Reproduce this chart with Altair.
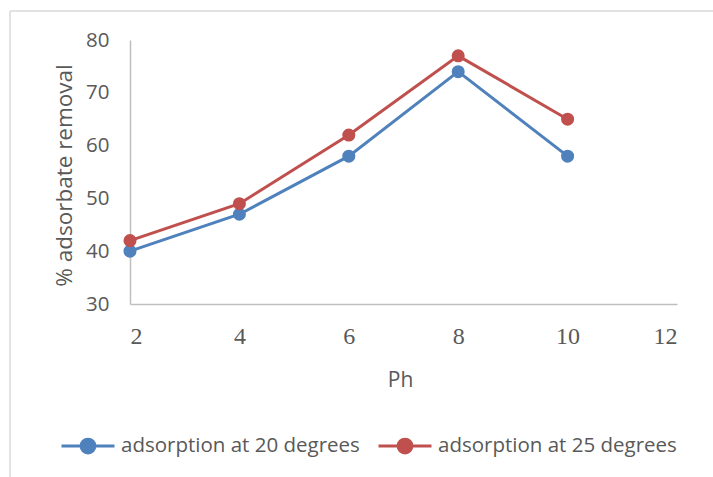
import altair as alt
import pandas as pd

ph = [2, 4, 6, 8, 10]
ads20 = [40, 47, 58, 74, 58]
ads25 = [42, 49, 62, 77, 65]
series_names = ["adsorption at 20 degrees", "adsorption at 25 degrees"]
series_colors = ["#4F81BD", "#C0504D"]
x_ticks = [2, 4, 6, 8, 10, 12]
y_ticks = [30, 40, 50, 60, 70, 80]

df = pd.concat([
    pd.DataFrame({"Ph": ph, "value": ads20, "series": series_names[0]}),
    pd.DataFrame({"Ph": ph, "value": ads25, "series": series_names[1]}),
])

sym = "M-1,0L1,0M0.26,0A0.26,0.26,0,1,1,-0.26,0A0.26,0.26,0,1,1,0.26,0"

lines = alt.Chart(df).mark_line(
    point=alt.OverlayMarkDef(size=170, filled=True, opacity=1),
    strokeWidth=3,
).encode(
    x=alt.X("Ph:Q", scale=alt.Scale(domain=[2, 12], nice=False),
            axis=alt.Axis(values=x_ticks, title="Ph", grid=False, ticks=False,
                          domainColor="#BFBFBF", domainWidth=1.5,
                          labelFont="Liberation Serif", labelFontSize=24,
                          labelColor="#595959", labelPadding=20,
                          titleFont="Open Sans", titleFontSize=21, titleFontWeight="normal",
                          titleColor="#595959", titleX=270, titleY=76,
                          titleBaseline="middle", titleAlign="center")),
    y=alt.Y("value:Q", scale=alt.Scale(domain=[30, 80], nice=False),
            axis=alt.Axis(values=y_ticks, title="% adsorbate removal", grid=False, ticks=False,
                          domainColor="#BFBFBF", domainWidth=1.5,
                          labelFont="Open Sans", labelFontSize=20.5,
                          labelColor="#595959", labelPadding=21,
                          titleFont="Open Sans", titleFontSize=22.5, titleFontWeight="normal",
                          titleColor="#595959", titleX=-66, titleY=135, titleAngle=270,
                          titleBaseline="middle", titleAlign="center")),
    color=alt.Color("series:N",
                    scale=alt.Scale(domain=series_names, range=series_colors),
                    legend=alt.Legend(title=None, orient="none", direction="horizontal",
                                      legendX=-70, legendY=378,
                                      symbolType=sym, symbolSize=2809,
                                      symbolStrokeWidth=3, symbolFillColor=None,
                                      labelFont="Open Sans", labelFontSize=20.5,
                                      labelColor="#595959", labelOffset=5,
                                      labelLimit=400,
                                      columnPadding=12, symbolOffset=0)),
)

border_top = alt.Chart().mark_rule(color="#D9D9D9", strokeWidth=1.5).encode(
    x=alt.value(-120), x2=alt.value(600), y=alt.value(-29))
border_left = alt.Chart().mark_rule(color="#D9D9D9", strokeWidth=1.5).encode(
    x=alt.value(-120), y=alt.value(-29), y2=alt.value(460))

chart = alt.layer(border_top, border_left, lines).properties(
    width=547, height=264,
    padding={"left": 130, "top": 40, "right": 36, "bottom": 173},
    autosize=alt.AutoSizeParams(type="none"),
    background="white",
).configure_view(strokeWidth=0, stroke=None)

chart.save("out.html", embed_options={"renderer": "svg", "actions": False})
